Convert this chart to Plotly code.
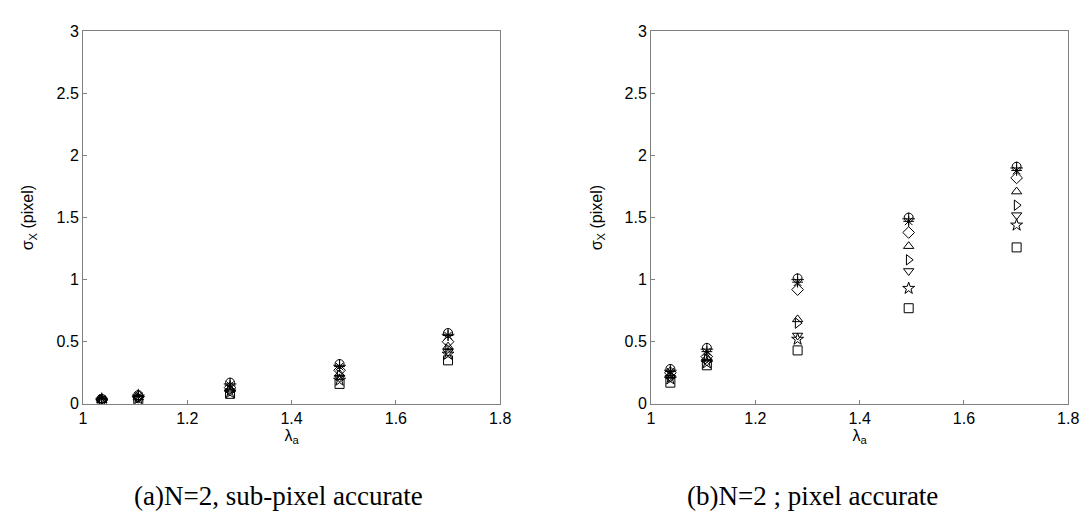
import plotly.graph_objects as go

lam_a = [1.036, 1.106, 1.282, 1.492, 1.700]
lam_b = [1.037, 1.107, 1.281, 1.494, 1.701]

symbols = ["circle-open", "cross-thin-open", "asterisk-open", "diamond-open",
           "triangle-up-open", "triangle-right-open", "triangle-down-open",
           "star-open", "square-open"]

left_vals = [
    [0.04, 0.07, 0.17, 0.32, 0.57],
    [0.04, 0.07, 0.16, 0.31, 0.56],
    [0.04, 0.06, 0.15, 0.30, 0.55],
    [0.03, 0.06, 0.13, 0.27, 0.50],
    [0.03, 0.05, 0.12, 0.24, 0.46],
    [0.03, 0.05, 0.11, 0.23, 0.44],
    [0.03, 0.04, 0.10, 0.21, 0.42],
    [0.02, 0.04, 0.09, 0.19, 0.40],
    [0.02, 0.03, 0.08, 0.16, 0.35],
]
right_vals = [
    [0.28, 0.45, 1.01, 1.50, 1.91],
    [0.27, 0.44, 1.00, 1.49, 1.90],
    [0.26, 0.42, 0.98, 1.47, 1.88],
    [0.25, 0.38, 0.92, 1.38, 1.82],
    [0.23, 0.37, 0.68, 1.27, 1.71],
    [0.22, 0.36, 0.65, 1.16, 1.60],
    [0.21, 0.34, 0.55, 1.07, 1.52],
    [0.20, 0.33, 0.52, 0.93, 1.44],
    [0.17, 0.31, 0.43, 0.77, 1.26],
]

x_ticks = [1, 1.2, 1.4, 1.6, 1.8]
x_ticktext = ["1", "1.2", "1.4", "1.6", "1.8"]
y_ticks = [0, 0.5, 1, 1.5, 2, 2.5, 3]
y_ticktext = ["0", "0.5", "1", "1.5", "2", "2.5", "3"]

captions = ["(a)N=2, sub-pixel accurate", "(b)N=2 ; pixel accurate"]

fig = go.Figure()
for sym, ya in zip(symbols, left_vals):
    fig.add_trace(go.Scatter(x=lam_a, y=ya, mode="markers", xaxis="x", yaxis="y",
                             marker=dict(symbol=sym, size=9, color="black",
                                         line=dict(color="black", width=1)),
                             showlegend=False))
for sym, yb in zip(symbols, right_vals):
    fig.add_trace(go.Scatter(x=lam_b, y=yb, mode="markers", xaxis="x2", yaxis="y2",
                             marker=dict(symbol=sym, size=9, color="black",
                                         line=dict(color="black", width=1)),
                             showlegend=False))

W, H = 1089, 515
left_dom = [72 / W, 495 / W]
right_dom = [648 / W, 1071 / W]
y_dom = [(H - 401) / H, (H - 16) / H]

sans = "Liberation Sans, Arial"
axis_common = dict(showline=True, linecolor="#808080", linewidth=1, mirror=True,
                   ticks="inside", ticklen=4, tickcolor="#808080", showgrid=False,
                   zeroline=False, tickfont=dict(family=sans, size=16, color="black"))

xa = dict(axis_common, range=[1, 1.8], tickvals=x_ticks, ticktext=x_ticktext,
          title=dict(text="λ<sub>a</sub>", font=dict(family=sans, size=16, color="black"), standoff=0))
ya_ = dict(axis_common, range=[0, 3], tickvals=y_ticks, ticktext=y_ticktext,
           title=dict(text="σ<sub>X</sub> (pixel)", font=dict(family=sans, size=16, color="black"), standoff=18))

fig.update_layout(
    width=W, height=H,
    margin=dict(l=0, r=0, t=0, b=0),
    plot_bgcolor="white", paper_bgcolor="white",
    xaxis=dict(xa, domain=left_dom, anchor="y"),
    yaxis=dict(ya_, domain=y_dom, anchor="x"),
    xaxis2=dict(xa, domain=right_dom, anchor="y2"),
    yaxis2=dict(ya_, domain=y_dom, anchor="x2"),
)

caption_x = [270, 812]
for cap, cx in zip(captions, caption_x):
    fig.add_annotation(text=cap, x=cx / W, y=(H - 496) / H,
                       xref="paper", yref="paper", showarrow=False,
                       xanchor="center", yanchor="middle",
                       font=dict(family="Liberation Serif, Times New Roman", size=27, color="black"))

fig.write_html("out.html")
